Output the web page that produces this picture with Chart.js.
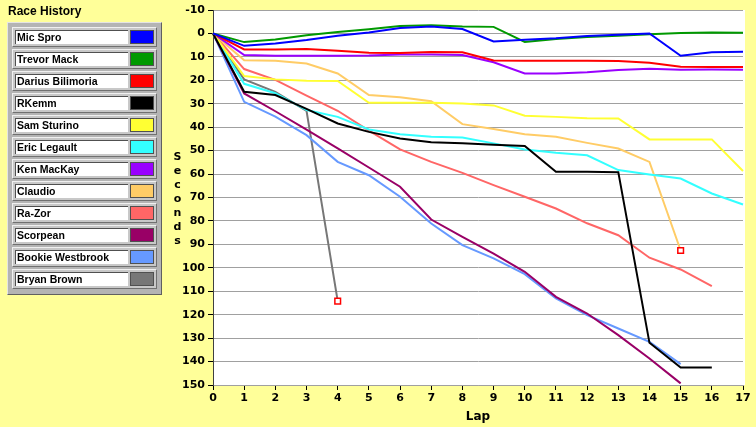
<!DOCTYPE html>
<html>
<head>
<meta charset="utf-8">
<script src="https://cdn.jsdelivr.net/npm/chart.js@4.4.1/dist/chart.umd.min.js"></script>
<style>
  html, body { margin: 0; padding: 0; background: #ffff99; }
  body { width: 756px; height: 427px; position: relative; overflow: hidden; font-family: 'Liberation Sans', Arial, sans-serif; }
  #wrap { position: absolute; left: 0; top: 0; width: 756px; height: 427px; }
  #title { position: absolute; left: 8px; top: 4px; font-weight: bold; font-size: 12px; color: #000; }
  #legend { position: absolute; left: 7px; top: 22px; width: 145px; padding: 4px 4px 3px 4px;
    background: #b4b4b4; border: 1px solid; border-color: #e4e4e4 #606060 #606060 #e4e4e4; }
  .row { height: 14px; margin-bottom: 2px; padding: 2px; background: #c8c8c8; display: flex;
    border: 1px solid; border-color: #f0f0f0 #707070 #707070 #f0f0f0; }
  .name { width: 112px; height: 13px; background: #fff; border-top: 1px solid #505050; border-left: 1px solid #505050;
    font-size: 10.5px; font-weight: bold; line-height: 13px; padding-left: 1px; white-space: nowrap; overflow: hidden; color: #000; }
  .sw { width: 22px; height: 12px; margin-left: 2px; border: 1px solid #505050; }
  #ytitle { position: absolute; left: 171px; top: 150px; writing-mode: vertical-lr; text-orientation: upright;
    font-family: 'DejaVu Sans', sans-serif; font-weight: bold; font-size: 11px; letter-spacing: 1px; color: #000; }
</style>
</head>
<body>
<div id="wrap"><canvas id="raceChart"></canvas></div>
<div id="title">Race History</div>
<div id="legend"></div>
<div id="ytitle">Seconds</div>
<script>
'use strict';
const laps = ['0','1','2','3','4','5','6','7','8','9','10','11','12','13','14','15','16','17'];
const yTicks = [-10, 150, 10]; // min, max, step

const micSpro = [0, 5.3, 4.3, 2.8, 1.0, -0.4, -2.3, -3.0, -1.9, 3.4, 2.7, 2.1, 1.1, 0.6, 0, 9.5, 8.0, 7.8];
const trevorMack = [0, 3.7, 2.6, 0.8, -0.6, -1.8, -3.2, -3.5, -3.0, -2.8, 3.6, 2.4, 1.5, 1.0, 0.3, -0.2, -0.4, -0.3];
const dariusBilimoria = [0, 6.8, 6.8, 6.6, 7.4, 8.2, 8.3, 7.9, 8.0, 11.5, 11.7, 11.7, 11.7, 11.8, 12.5, 14.2, 14.3, 14.3];
const rKemm = [0, 24.9, 26.3, 32.2, 38.4, 42.0, 44.8, 46.4, 46.9, 47.5, 48.0, 59.0, 59.0, 59.2, 132.0, 142.5, 142.5];
const samSturino = [0, 18.2, 19.6, 20.2, 20.3, 29.6, 29.6, 29.6, 29.9, 30.7, 35.1, 35.6, 36.2, 36.3, 45.2, 45.2, 45.2, 58.7];
const ericLegault = [0, 21.5, 25.5, 32.7, 35.6, 41.0, 43.0, 44.1, 44.4, 46.9, 49.5, 50.9, 52.0, 58.3, 60.2, 61.9, 68.3, 73.0];
const kenMacKay = [0, 9.2, 9.5, 9.5, 9.5, 9.4, 9.0, 9.0, 9.2, 12.3, 17.1, 17.1, 16.6, 15.6, 15.1, 15.5, 15.4, 15.5];
const claudio = [0, 11.4, 11.7, 12.8, 17.1, 26.3, 27.2, 28.9, 38.7, 40.8, 43.0, 44.1, 46.7, 49.1, 54.8, 92.6];
const raZor = [0, 15.2, 19.8, 26.5, 33.0, 41.5, 49.5, 54.8, 59.5, 64.7, 69.7, 74.7, 81.0, 86.1, 95.7, 100.7, 107.8];
const scorpean = [0, 25.6, 33.2, 41.0, 49.0, 57.2, 65.4, 79.4, 86.8, 93.9, 101.7, 112.4, 119.5, 128.7, 138.7, 149.3];
const bookieWestbrook = [0, 29.2, 35.5, 43.4, 54.8, 60.5, 69.7, 81.1, 90.3, 96.0, 102.7, 113.1, 120.2, 125.9, 131.6, 141.1];
const bryanBrown = [0, 19.6, 24.9, 33.0, 114.2];

const names = ['Mic Spro', 'Trevor Mack', 'Darius Bilimoria', 'RKemm', 'Sam Sturino', 'Eric Legault',
  'Ken MacKay', 'Claudio', 'Ra-Zor', 'Scorpean', 'Bookie Westbrook', 'Bryan Brown'];
const series = [micSpro, trevorMack, dariusBilimoria, rKemm, samSturino, ericLegault,
  kenMacKay, claudio, raZor, scorpean, bookieWestbrook, bryanBrown];
// drivers who dropped out get a marker on their last lap
const retired = ['Claudio', 'Bryan Brown'];

const colors = ['#0000ff', '#009900', '#ff0000', '#000000', '#ffff33', '#33ffff',
  '#9900ff', '#ffcc66', '#ff6666', '#990066', '#6699ff', '#777777'];

// legend panel
const legendEl = document.getElementById('legend');
for (let i = 0; i < names.length; i++) {
  const row = document.createElement('div');
  row.className = 'row';
  const nm = document.createElement('div');
  nm.className = 'name';
  nm.textContent = names[i];
  const sw = document.createElement('div');
  sw.className = 'sw';
  sw.style.background = colors[i];
  row.appendChild(nm);
  row.appendChild(sw);
  legendEl.appendChild(row);
}

const plotBg = {
  id: 'plotBg',
  beforeDraw(chart) {
    const a = chart.chartArea;
    const c = chart.ctx;
    c.save();
    c.fillStyle = '#ffffff';
    c.fillRect(a.left, a.top, a.right - a.left + 2, a.bottom - a.top);
    c.restore();
  }
};

const datasets = [];
for (let i = 0; i < names.length; i++) {
  const last = series[i].length - 1;
  const isOut = retired.includes(names[i]);
  datasets.push({
    label: names[i],
    data: series[i],
    borderColor: colors[i],
    backgroundColor: colors[i],
    borderWidth: 2,
    tension: 0,
    fill: false,
    pointStyle: 'rect',
    pointRadius: (ctx) => (isOut && ctx.dataIndex === last ? 4 : 0),
    pointBorderColor: '#ff0000',
    pointBackgroundColor: '#ffffff',
    pointBorderWidth: 1.5
  });
}

const tickFont = { family: 'DejaVu Sans', weight: 'bold', size: 11 };

new Chart(document.getElementById('raceChart'), {
  type: 'line',
  data: { labels: laps, datasets: datasets },
  options: {
    responsive: true,
    maintainAspectRatio: false,
    animation: false,
    layout: { padding: { left: 0, top: 10, right: 13, bottom: 0 } },
    plugins: { legend: { display: false }, tooltip: { enabled: false } },
    scales: {
      x: {
        offset: false,
        grid: { drawOnChartArea: false, tickLength: 5, tickColor: '#000' },
        border: { color: '#a0a0a0' },
        ticks: { color: '#000', font: tickFont, padding: 2, maxRotation: 0, autoSkip: false },
        title: { display: true, text: 'Lap', color: '#000', font: { family: 'DejaVu Sans', weight: 'bold', size: 12 }, padding: { top: 0, bottom: 3 } },
        afterFit(scale) { scale.height = 42; }
      },
      y: {
        reverse: true,
        min: yTicks[0],
        max: yTicks[1],
        ticks: { stepSize: yTicks[2], color: '#000', font: tickFont, padding: 3 },
        grid: { color: '#a0a0a0', tickColor: '#000', tickLength: 5 },
        border: { color: '#404040' },
        afterFit(scale) { scale.width = 213; }
      }
    }
  },
  plugins: [plotBg]
});
</script>
</body>
</html>
